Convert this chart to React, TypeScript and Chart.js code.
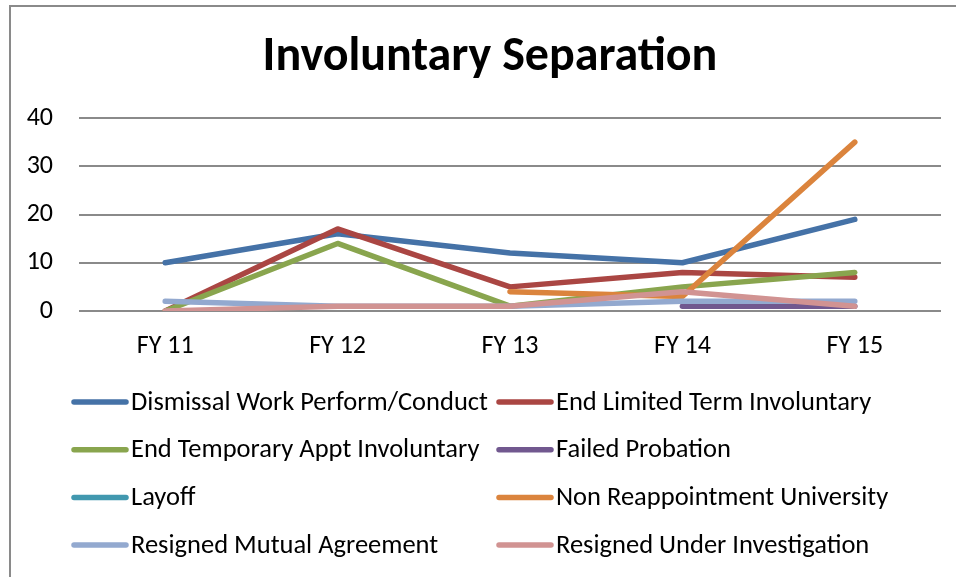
import React, { useEffect, useRef } from "react";
import { Chart, registerables } from "chart.js";

Chart.register(...registerables);

const TITLE = "Involuntary Separation";
const CATEGORIES = ["FY 11", "FY 12", "FY 13", "FY 14", "FY 15"];
const Y_TICKS = [0, 10, 20, 30, 40];

const SERIES_NAMES = [
  "Dismissal Work Perform/Conduct",
  "End Limited Term Involuntary",
  "End Temporary Appt Involuntary",
  "Failed Probation",
  "Layoff",
  "Non Reappointment University",
  "Resigned Mutual Agreement",
  "Resigned Under Investigation",
];

const dismissal = [10, 16, 12, 10, 19];
const endLimited = [0, 17, 5, 8, 7];
const endTemporary = [0, 14, 1, 5, 8];
const failedProbation = [null, null, null, 1, 1];
const layoff = [null, null, null, null, null];
const nonReappointment = [null, null, 4, 3, 35];
const resignedMutual = [2, 1, 1, 2, 2];
const resignedInvestigation = [0, 1, 1, 4, 1];

const SERIES_VALUES = [
  dismissal,
  endLimited,
  endTemporary,
  failedProbation,
  layoff,
  nonReappointment,
  resignedMutual,
  resignedInvestigation,
];

const COLORS = [
  "#4572A7",
  "#AA4643",
  "#89A54E",
  "#71588F",
  "#4198AF",
  "#DB843D",
  "#93A9CF",
  "#D19392",
];

const FONT = "Carlito, Calibri, 'Open Sans', 'Liberation Sans', sans-serif";

const overlayPlugin = {
  id: "overlay",
  afterDraw(chart: any) {
    const ctx = chart.ctx;
    ctx.save();
    // title
    ctx.fillStyle = "#000";
    ctx.font = `bold 48px ${FONT}`;
    ctx.textAlign = "center";
    ctx.textBaseline = "middle";
    ctx.fillText(TITLE, 490, 58);
    // legend
    ctx.font = `26.5px ${FONT}`;
    ctx.textAlign = "left";
    const colSample = [72, 497];
    const colText = [131, 556];
    chart.data.datasets.forEach((ds: any, i: number) => {
      const col = i % 2;
      const row = Math.floor(i / 2);
      const y = 402 + row * 47.7;
      ctx.strokeStyle = ds.borderColor;
      ctx.lineWidth = 5.5;
      ctx.lineCap = "round";
      ctx.beginPath();
      ctx.moveTo(colSample[col] + 2, y);
      ctx.lineTo(colSample[col] + 54, y);
      ctx.stroke();
      ctx.fillStyle = "#000";
      ctx.fillText(ds.label, colText[col], y + 1);
    });
    ctx.restore();
  },
};

export default function App() {
  const ref = useRef<HTMLCanvasElement | null>(null);
  useEffect(() => {
    if (!ref.current) return;
    const chart = new Chart(ref.current, {
      type: "line",
      data: {
        labels: CATEGORIES,
        datasets: SERIES_NAMES.map((name, i) => ({
          label: name,
          data: SERIES_VALUES[i],
          borderColor: COLORS[i],
          backgroundColor: COLORS[i],
          borderWidth: 5.5,
          pointRadius: 0,
          pointHoverRadius: 0,
          borderCapStyle: "round",
          borderJoinStyle: "round",
          tension: 0,
          spanGaps: false,
          order: -i,
        })),
      },
      options: {
        responsive: false,
        animation: false,
        layout: { padding: { left: 0, right: 15, top: 118, bottom: 0 } },
        plugins: {
          legend: { display: false },
          title: { display: false },
          tooltip: { enabled: false },
        },
        scales: {
          x: {
            offset: true,
            grid: { display: false, drawTicks: false },
            border: { display: false },
            ticks: {
              color: "#000",
              font: { family: FONT, size: 26 },
              padding: 20,
              maxRotation: 0,
            },
            afterFit: (scale: any) => {
              scale.height = 266;
            },
          },
          y: {
            min: 0,
            max: 40,
            afterBuildTicks: (scale: any) => {
              scale.ticks = Y_TICKS.map((v) => ({ value: v }));
            },
            grid: { color: "#8a8a8a", lineWidth: 2, drawTicks: false },
            border: { display: false },
            ticks: {
              color: "#000",
              font: { family: FONT, size: 26 },
              padding: 26,
            },
            afterFit: (scale: any) => {
              scale.width = 79;
            },
          },
        },
      },
      plugins: [overlayPlugin],
    });
    return () => chart.destroy();
  }, []);

  return (
    <div style={{ position: "absolute", left: 0, top: 0, width: 956, height: 577, overflow: "hidden", background: "#fff" }}>
      <canvas ref={ref} width={956} height={577} style={{ position: "absolute", left: 0, top: 0, width: 956, height: 577 }} />
      <div
        style={{
          position: "absolute",
          left: 9,
          top: 5,
          width: 1000,
          height: 700,
          borderLeft: "2px solid #8a8a8a",
          borderTop: "2px solid #8a8a8a",
          pointerEvents: "none",
        }}
      />
    </div>
  );
}
